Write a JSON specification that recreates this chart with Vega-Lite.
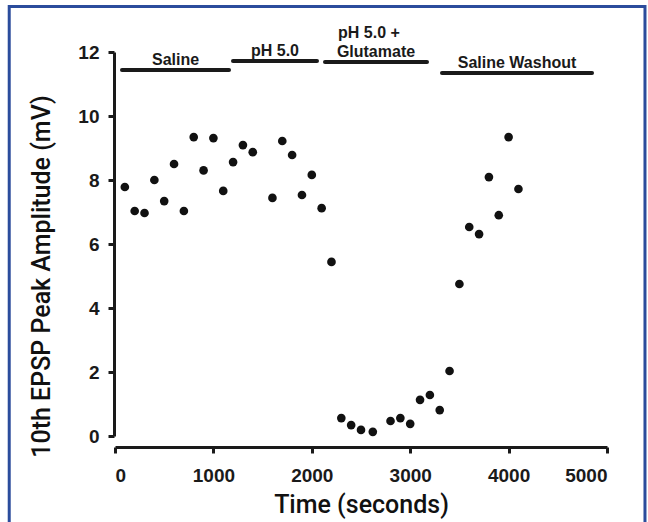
{
  "$schema": "https://vega.github.io/schema/vega-lite/v6.json",
  "width": 492,
  "height": 384,
  "autosize": {"type": "none"},
  "padding": {"left": 115, "top": 52, "right": 41, "bottom": 86},
  "background": "white",
  "config": {
    "view": {"stroke": null},
    "font": "Liberation Sans",
    "axis": {
      "grid": false,
      "domainColor": "#1a1a1a",
      "domainWidth": 3,
      "tickColor": "#1a1a1a",
      "tickWidth": 3,
      "tickSize": 6,
      "format": "d",
      "labelFont": "Liberation Sans",
      "labelFontWeight": "bold",
      "labelFontSize": 19,
      "labelColor": "#1a1a1a",
      "titleFont": "Roboto",
      "titleFontWeight": 500,
      "titleFontSize": 25,
      "titleColor": "#111111"
    }
  },
  "datasets": {
    "points": [
      {"time": 100, "amp": 7.78},
      {"time": 200, "amp": 7.03},
      {"time": 300, "amp": 6.97},
      {"time": 400, "amp": 8.0},
      {"time": 500, "amp": 7.34},
      {"time": 600, "amp": 8.5},
      {"time": 700, "amp": 7.03},
      {"time": 800, "amp": 9.34},
      {"time": 900, "amp": 8.3},
      {"time": 1000, "amp": 9.31},
      {"time": 1100, "amp": 7.66},
      {"time": 1200, "amp": 8.56},
      {"time": 1300, "amp": 9.09},
      {"time": 1400, "amp": 8.87},
      {"time": 1600, "amp": 7.44},
      {"time": 1700, "amp": 9.22},
      {"time": 1800, "amp": 8.78},
      {"time": 1900, "amp": 7.53},
      {"time": 2000, "amp": 8.16},
      {"time": 2100, "amp": 7.12},
      {"time": 2200, "amp": 5.44},
      {"time": 2300, "amp": 0.56},
      {"time": 2400, "amp": 0.34},
      {"time": 2500, "amp": 0.19},
      {"time": 2620, "amp": 0.13},
      {"time": 2800, "amp": 0.47},
      {"time": 2900, "amp": 0.56},
      {"time": 3000, "amp": 0.38},
      {"time": 3100, "amp": 1.13},
      {"time": 3200, "amp": 1.28},
      {"time": 3300, "amp": 0.81},
      {"time": 3400, "amp": 2.03},
      {"time": 3500, "amp": 4.75},
      {"time": 3600, "amp": 6.53},
      {"time": 3700, "amp": 6.31},
      {"time": 3800, "amp": 8.09},
      {"time": 3900, "amp": 6.9},
      {"time": 4000, "amp": 9.34},
      {"time": 4100, "amp": 7.72}
    ],
    "phases": [
      {"label": "Saline", "label2": "", "start": 71, "end": 1159, "level": 11.44},
      {"label": "pH 5.0", "label2": "", "start": 1199, "end": 2053, "level": 11.72},
      {"label": "Glutamate", "label2": "pH 5.0 +", "start": 2134, "end": 3171, "level": 11.69},
      {"label": "Saline Washout", "label2": "", "start": 3323, "end": 4848, "level": 11.34}
    ]
  },
  "layer": [
    {
      "data": {"values": [{}]},
      "mark": {"type": "rect", "filled": false, "stroke": "#2b4c9c", "strokeWidth": 3, "clip": false},
      "encoding": {
        "x": {"datum": -1075, "type": "quantitative"},
        "x2": {"datum": 5386},
        "y": {"datum": 13.42, "type": "quantitative"},
        "y2": {"datum": -3.5}
      }
    },
    {
      "data": {"name": "phases"},
      "mark": {"type": "rule", "strokeWidth": 4, "color": "#1a1a1a", "strokeCap": "round"},
      "encoding": {
        "x": {"field": "start", "type": "quantitative"},
        "x2": {"field": "end"},
        "y": {"field": "level", "type": "quantitative"}
      }
    },
    {
      "data": {"name": "phases"},
      "transform": [{"calculate": "(datum.start + datum.end) / 2", "as": "mid"}],
      "mark": {"type": "text", "font": "Liberation Sans", "fontWeight": "bold", "fontSize": 16, "color": "#1a1a1a", "baseline": "alphabetic", "dy": -5, "clip": false},
      "encoding": {
        "x": {"field": "mid", "type": "quantitative"},
        "y": {"field": "level", "type": "quantitative"},
        "text": {"field": "label"}
      }
    },
    {
      "data": {"name": "phases"},
      "transform": [{"calculate": "(datum.start + datum.end) / 2", "as": "mid"}],
      "mark": {"type": "text", "font": "Liberation Sans", "fontWeight": "bold", "fontSize": 16, "color": "#1a1a1a", "baseline": "alphabetic", "dy": -24, "dx": -7, "clip": false},
      "encoding": {
        "x": {"field": "mid", "type": "quantitative"},
        "y": {"field": "level", "type": "quantitative"},
        "text": {"field": "label2"}
      }
    },
    {
      "data": {"name": "points"},
      "mark": {"type": "circle", "size": 75, "color": "#111111", "opacity": 1},
      "encoding": {
        "x": {
          "field": "time", "type": "quantitative",
          "scale": {"domain": [0, 5000], "nice": false, "zero": false},
          "axis": {"title": "Time (seconds)", "values": [0, 1000, 2000, 3000, 4000, 5000], "offset": 11, "labelPadding": 13, "titleY": 65, "titleBaseline": "alphabetic"}
        },
        "y": {
          "field": "amp", "type": "quantitative",
          "scale": {"domain": [0, 12], "nice": false, "zero": false},
          "axis": {"title": "10th EPSP Peak Amplitude (mV)", "values": [0, 2, 4, 6, 8, 10, 12], "offset": 1, "labelPadding": 9, "titleX": -73, "titleY": 224, "titleBaseline": "middle", "titleAngle": 270}
        }
      }
    }
  ]
}
